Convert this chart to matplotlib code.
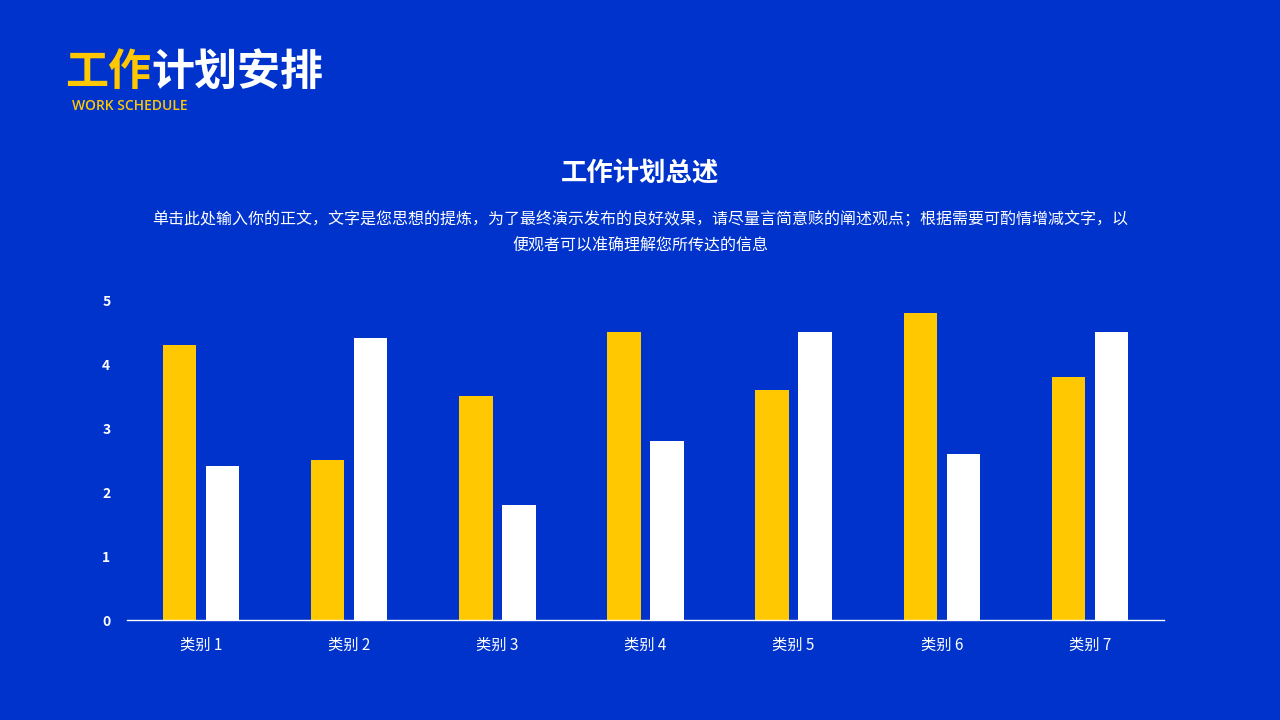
import matplotlib
matplotlib.use("Agg")
import matplotlib.pyplot as plt
import numpy as np

plt.rcParams['font.family'] = ['Noto Sans CJK SC', 'DejaVu Sans']

categories = ["类别 1", "类别 2", "类别 3", "类别 4", "类别 5", "类别 6", "类别 7"]
series_yellow = [4.3, 2.5, 3.5, 4.5, 3.6, 4.8, 3.8]
series_white = [2.4, 4.4, 1.8, 2.8, 4.5, 2.6, 4.5]
y_ticks = [0, 1, 2, 3, 4, 5]

BG = "#0033CC"
YELLOW = "#FFC800"
WHITE = "#FFFFFF"

fig = plt.figure(figsize=(12.8, 7.2), dpi=100, facecolor=BG)

# Titles
fig.text(65/1280, 1 - 72/720, "工作", color=YELLOW, fontsize=31, fontweight='heavy', va='center', ha='left')
fig.text(151/1280, 1 - 72/720, "计划安排", color=WHITE, fontsize=31, fontweight='heavy', va='center', ha='left')
fig.text(72/1280, 1 - 106/720, "WORK SCHEDULE", color=YELLOW, fontsize=10, fontweight='semibold', va='center', ha='left',
         family=['Open Sans', 'DejaVu Sans'])

fig.text(0.5, 1 - 174/720, "工作计划总述", color=WHITE, fontsize=19, fontweight='bold', va='center', ha='center')
fig.text(0.5, 1 - 220/720, "单击此处输入你的正文，文字是您思想的提炼，为了最终演示发布的良好效果，请尽量言简意赅的阐述观点；根据需要可酌情增减文字，以",
         color=WHITE, fontsize=11.5, va='center', ha='center')
fig.text(0.5, 1 - 246/720, "便观者可以准确理解您所传达的信息",
         color=WHITE, fontsize=11.5, va='center', ha='center')

ax = fig.add_axes([127/1280, 100/720, (1164-127)/1280, 320/720])
ax.set_facecolor(BG)
x = np.arange(len(categories))
w = 0.225
off = 0.145
ax.bar(x - off, series_yellow, width=w, color=YELLOW, zorder=2)
ax.bar(x + off, series_white, width=w, color=WHITE, zorder=2)

ax.set_xlim(-0.5, len(categories) - 0.5)
ax.set_ylim(0, 5)
ax.set_yticks(y_ticks)
ax.set_yticklabels([str(t) for t in y_ticks], color=WHITE, fontsize=10, fontweight='bold')
ax.set_xticks(x)
ax.set_xticklabels(categories, color=WHITE, fontsize=11, fontweight='medium')
ax.tick_params(axis='both', length=0)
ax.tick_params(axis='y', pad=12)
ax.tick_params(axis='x', pad=12)
for s in ['top', 'right', 'left']:
    ax.spines[s].set_visible(False)
ax.spines['bottom'].set_color(WHITE)
ax.spines['bottom'].set_linewidth(1)

fig.savefig("out.png", dpi=100, facecolor=BG)
